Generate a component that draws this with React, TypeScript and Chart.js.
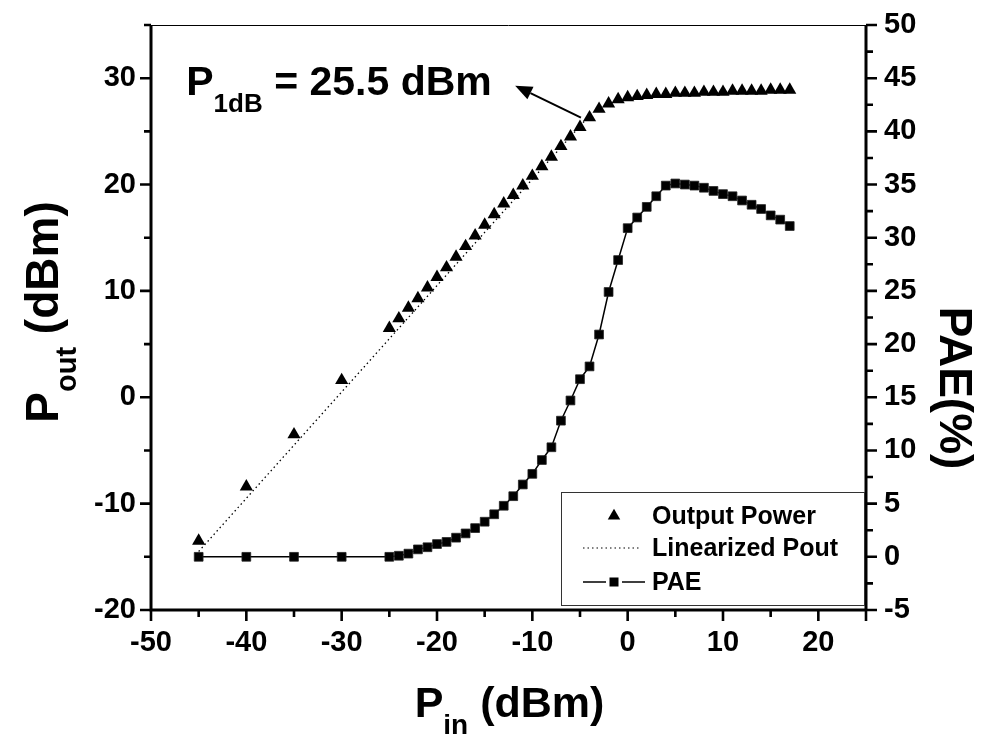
import React, { useEffect, useRef } from "react";
import { Chart, registerables } from "chart.js";

Chart.register(...registerables);

// ---------- data ----------
const pinValues = [
  -45, -40, -35, -30, -25, -24, -23, -22, -21, -20, -19, -18, -17, -16, -15, -14,
  -13, -12, -11, -10, -9, -8, -7, -6, -5, -4, -3, -2, -1, 0, 1, 2, 3, 4, 5, 6, 7,
  8, 9, 10, 11, 12, 13, 14, 15, 16, 17,
];
const poutValues = [
  -13.5, -8.4, -3.5, 1.6, 6.5, 7.4, 8.4, 9.3, 10.3, 11.3, 12.2, 13.2, 14.2, 15.2,
  16.2, 17.2, 18.2, 19.0, 19.9, 20.8, 21.7, 22.6, 23.6, 24.5, 25.4, 26.3, 27.1,
  27.6, 28.0, 28.2, 28.3, 28.4, 28.5, 28.5, 28.6, 28.6, 28.6, 28.7, 28.7, 28.7,
  28.8, 28.8, 28.8, 28.8, 28.9, 28.9, 28.9,
];
const paeValues = [
  0, 0, 0, 0, 0, 0.1, 0.3, 0.7, 0.9, 1.2, 1.4, 1.8, 2.2, 2.7, 3.3, 4.0, 4.8, 5.7,
  6.8, 7.8, 9.1, 10.3, 12.8, 14.7, 16.7, 17.9, 20.9, 24.9, 27.9, 30.9, 31.9, 32.9,
  33.9, 34.9, 35.1, 35.0, 34.9, 34.7, 34.4, 34.1, 33.9, 33.5, 33.1, 32.7, 32.1,
  31.7, 31.1,
];
const linPin = [-45, -4];
const linPout = [-14.5, 26.5];

const xMajorTicks = [-50, -40, -30, -20, -10, 0, 10, 20];
const xMinorTicks = [-45, -35, -25, -15, -5, 5, 15, 25];
const leftMajorTicks = [-20, -10, 0, 10, 20, 30];
const leftMinorTicks = [-15, -5, 5, 15, 25, 35];
const rightMajorTicks = [-5, 0, 5, 10, 15, 20, 25, 30, 35, 40, 45, 50];
const rightMinorTicks = [-2.5, 2.5, 7.5, 12.5, 17.5, 22.5, 27.5, 32.5, 37.5, 42.5, 47.5];

const legendLabels = ["Output Power", "Linearized Pout", "PAE"];
const annotationParts = ["P", "1dB", " = 25.5 dBm"];
const annotationAnchor = [-46.3, 28.4]; // Pin, Pout
const arrowTail = [-4.9, 26.3];
const arrowTip = [-11.8, 29.3];

const FONT = "'Liberation Sans', Arial, Helvetica, sans-serif";

function drawSubText(
  ctx: CanvasRenderingContext2D,
  parts: string[],
  mainSize: number,
  subSize: number,
  subDrop: number,
  x: number,
  y: number,
  align: "left" | "center"
) {
  ctx.textBaseline = "alphabetic";
  ctx.textAlign = "left";
  ctx.font = `bold ${mainSize}px ${FONT}`;
  const w0 = ctx.measureText(parts[0]).width;
  const w2 = ctx.measureText(parts[2]).width;
  ctx.font = `bold ${subSize}px ${FONT}`;
  const w1 = ctx.measureText(parts[1]).width;
  const total = w0 + w1 + w2;
  let cx = align === "center" ? x - total / 2 : x;
  ctx.font = `bold ${mainSize}px ${FONT}`;
  ctx.fillText(parts[0], cx, y);
  cx += w0;
  ctx.font = `bold ${subSize}px ${FONT}`;
  ctx.fillText(parts[1], cx, y + subDrop);
  cx += w1;
  ctx.font = `bold ${mainSize}px ${FONT}`;
  ctx.fillText(parts[2], cx, y);
}

const decorPlugin = {
  id: "decor",
  beforeDatasetsDraw(chart: any) {
    const { ctx, chartArea: a, scales } = chart;
    const sx = scales.x, sy = scales.y, sy1 = scales.y1;
    ctx.save();
    ctx.strokeStyle = "#000";
    ctx.lineCap = "butt";
    ctx.lineWidth = 1;
    ctx.beginPath();
    ctx.moveTo(a.left, a.top + 0.5);
    ctx.lineTo(a.right, a.top + 0.5);
    ctx.stroke();
    ctx.lineWidth = 3;
    ctx.beginPath();
    ctx.moveTo(a.left, a.top);
    ctx.lineTo(a.left, a.bottom);
    ctx.lineTo(a.right, a.bottom);
    ctx.moveTo(a.right, a.top);
    ctx.lineTo(a.right, a.bottom);
    ctx.stroke();
    ctx.lineWidth = 2.6;
    const major = 11, minor = 7;
    ctx.beginPath();
    xMajorTicks.forEach((v) => {
      const px = sx.getPixelForValue(v);
      ctx.moveTo(px, a.bottom);
      ctx.lineTo(px, a.bottom + major);
    });
    xMinorTicks.forEach((v) => {
      const px = sx.getPixelForValue(v);
      ctx.moveTo(px, a.bottom);
      ctx.lineTo(px, a.bottom + (v === 25 ? major : minor));
    });
    leftMajorTicks.forEach((v) => {
      const py = sy.getPixelForValue(v);
      ctx.moveTo(a.left, py);
      ctx.lineTo(a.left - major, py);
    });
    leftMinorTicks.forEach((v) => {
      const py = sy.getPixelForValue(v);
      ctx.moveTo(a.left, py);
      ctx.lineTo(a.left - minor, py);
    });
    rightMajorTicks.forEach((v) => {
      const py = sy1.getPixelForValue(v);
      ctx.moveTo(a.right, py);
      ctx.lineTo(a.right + major, py);
    });
    rightMinorTicks.forEach((v) => {
      const py = sy1.getPixelForValue(v);
      ctx.moveTo(a.right, py);
      ctx.lineTo(a.right + minor, py);
    });
    ctx.stroke();
    ctx.restore();
  },
  afterDraw(chart: any) {
    const { ctx, chartArea: a, scales } = chart;
    const sx = scales.x, sy = scales.y;
    ctx.save();
    ctx.fillStyle = "#000";
    ctx.strokeStyle = "#000";

    // bottom title
    drawSubText(ctx, ["P", "in", " (dBm)"], 43, 28, 17, (a.left + a.right) / 2 + 1, 717, "center");

    // left title (rotated)
    ctx.save();
    ctx.translate(58, 312);
    ctx.rotate(-Math.PI / 2);
    drawSubText(ctx, ["P", "out", " (dBm)"], 46, 29, 18, 0, 0, "center");
    ctx.restore();

    // right title (rotated clockwise)
    ctx.save();
    ctx.translate(940, 388);
    ctx.rotate(Math.PI / 2);
    ctx.font = `bold 46px ${FONT}`;
    ctx.textAlign = "center";
    ctx.textBaseline = "alphabetic";
    ctx.fillText("PAE(%)", 0, 0);
    ctx.restore();

    // annotation
    const ax = sx.getPixelForValue(annotationAnchor[0]);
    const ay = sy.getPixelForValue(annotationAnchor[1]);
    drawSubText(ctx, annotationParts, 41, 26, 17, ax, ay, "left");

    // arrow
    const tx = sx.getPixelForValue(arrowTail[0]);
    const ty = sy.getPixelForValue(arrowTail[1]);
    const hx = sx.getPixelForValue(arrowTip[0]);
    const hy = sy.getPixelForValue(arrowTip[1]);
    const ang = Math.atan2(hy - ty, hx - tx);
    const headLen = 17, headHalf = 7;
    const bx = hx - Math.cos(ang) * headLen;
    const by = hy - Math.sin(ang) * headLen;
    ctx.lineWidth = 2;
    ctx.beginPath();
    ctx.moveTo(tx, ty);
    ctx.lineTo(bx, by);
    ctx.stroke();
    ctx.beginPath();
    ctx.moveTo(hx, hy);
    ctx.lineTo(bx + Math.sin(ang) * headHalf, by - Math.cos(ang) * headHalf);
    ctx.lineTo(bx - Math.sin(ang) * headHalf, by + Math.cos(ang) * headHalf);
    ctx.closePath();
    ctx.fill();

    // legend box
    const L = a.right - 305, T = a.bottom - 118, W = 303, H = 113;
    ctx.lineWidth = 1;
    ctx.strokeStyle = "#333";
    ctx.strokeRect(L + 0.5, T + 0.5, W, H);
    ctx.strokeStyle = "#000";
    const symX = L + 53, textX = L + 91;
    const rows = [T + 24, T + 56, T + 90];
    ctx.font = `bold 25px ${FONT}`;
    ctx.textAlign = "left";
    ctx.textBaseline = "middle";
    legendLabels.forEach((lab, i) => ctx.fillText(lab, textX, rows[i] + 1));
    const r = 7.2;
    ctx.beginPath();
    ctx.moveTo(symX, rows[0] - r);
    ctx.lineTo(symX + r * 0.866, rows[0] + r * 0.5);
    ctx.lineTo(symX - r * 0.866, rows[0] + r * 0.5);
    ctx.closePath();
    ctx.fill();
    ctx.lineWidth = 1.2;
    ctx.setLineDash([1.5, 3]);
    ctx.beginPath();
    ctx.moveTo(symX - 31, rows[1]);
    ctx.lineTo(symX + 27, rows[1]);
    ctx.stroke();
    ctx.setLineDash([]);
    ctx.lineWidth = 1.5;
    ctx.beginPath();
    ctx.moveTo(symX - 31, rows[2]);
    ctx.lineTo(symX - 8, rows[2]);
    ctx.moveTo(symX + 8, rows[2]);
    ctx.lineTo(symX + 31, rows[2]);
    ctx.stroke();
    ctx.fillRect(symX - 4.5, rows[2] - 4.5, 9, 9);

    ctx.restore();
  },
};

export default function App() {
  const canvasRef = useRef<HTMLCanvasElement | null>(null);

  useEffect(() => {
    document.body.style.margin = "0";
    const canvas = canvasRef.current;
    if (!canvas) return;
    const tickFont = { family: FONT, size: 29, weight: "bold" as const };
    const noPadV = (w: number) => (s: any) => {
      s.width = w;
      s.paddingTop = 0;
      s.paddingBottom = 0;
    };
    const chart = new Chart(canvas, {
      type: "scatter",
      data: {
        datasets: [
          {
            label: "Linearized Pout",
            data: linPin.map((x, i) => ({ x, y: linPout[i] })),
            yAxisID: "y",
            showLine: true,
            borderColor: "#000",
            borderWidth: 1.3,
            borderDash: [1.5, 3],
            pointRadius: 0,
            order: 3,
          },
          {
            label: "PAE",
            data: pinValues.map((x, i) => ({ x, y: paeValues[i] })),
            yAxisID: "y1",
            showLine: true,
            borderColor: "#000",
            borderWidth: 1.5,
            pointStyle: "rect",
            pointRadius: 6.2,
            pointBackgroundColor: "#000",
            pointBorderColor: "#222",
            pointBorderWidth: 0.8,
            order: 2,
          },
          {
            label: "Output Power",
            data: pinValues.map((x, i) => ({ x, y: poutValues[i] })),
            yAxisID: "y",
            showLine: false,
            pointStyle: "triangle",
            pointRadius: 7.6,
            pointBackgroundColor: "#000",
            pointBorderColor: "#000",
            pointBorderWidth: 0,
            order: 1,
          },
        ],
      },
      options: {
        responsive: false,
        animation: false,
        devicePixelRatio: 1,
        layout: { padding: { top: 25, left: 0, right: 0, bottom: 0 } },
        plugins: { legend: { display: false }, tooltip: { enabled: false } },
        scales: {
          x: {
            type: "linear",
            position: "bottom",
            min: -50,
            max: 25,
            afterFit: (s: any) => { s.height = 130; s.paddingLeft = 0; s.paddingRight = 0; },
            grid: { display: false, drawTicks: false },
            border: { display: false },
            ticks: { stepSize: 10, includeBounds: false, padding: 16, color: "#000", font: tickFont, maxRotation: 0 },
          },
          y: {
            type: "linear",
            position: "left",
            min: -20,
            max: 35,
            afterFit: noPadV(151),
            grid: { display: false, drawTicks: false },
            border: { display: false },
            ticks: { stepSize: 10, includeBounds: false, padding: 15, color: "#000", font: tickFont },
          },
          y1: {
            type: "linear",
            position: "right",
            min: -5,
            max: 50,
            afterFit: noPadV(115),
            grid: { display: false, drawTicks: false },
            border: { display: false },
            ticks: { stepSize: 5, includeBounds: false, padding: 18, color: "#000", font: tickFont },
          },
        },
      } as any,
      plugins: [decorPlugin],
    });
    return () => chart.destroy();
  }, []);

  return (
    <div style={{ position: "absolute", left: 0, top: 0, width: 981, height: 740, background: "#fff" }}>
      <canvas ref={canvasRef} width={981} height={740} style={{ width: 981, height: 740, display: "block" }} />
    </div>
  );
}
